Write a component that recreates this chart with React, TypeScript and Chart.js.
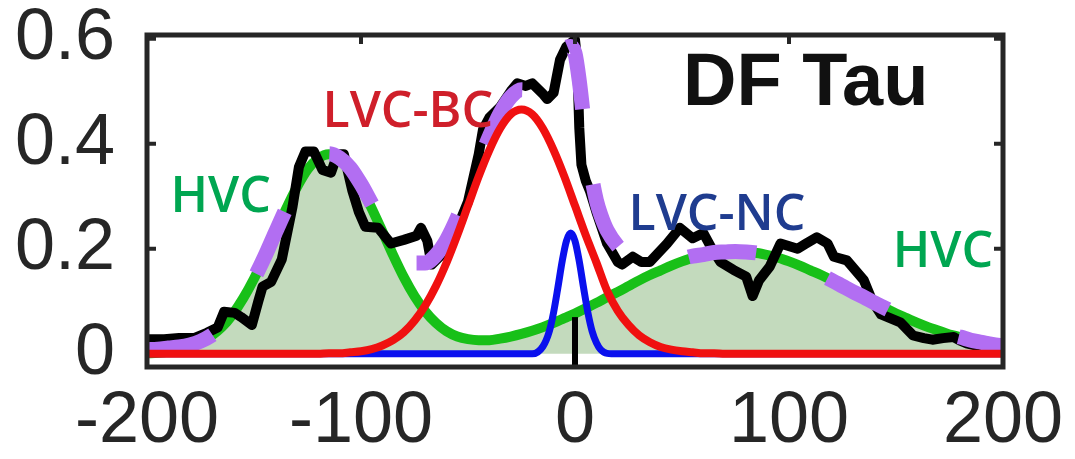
import React, { useEffect, useRef } from "react";
import { Chart, registerables } from "chart.js";

Chart.register(...registerables);

// ---------- data ----------
const X_TICKS = [-200, -100, 0, 100, 200];
const Y_TICKS = [0, 0.2, 0.4, 0.6];

const VEL = [-200,-195,-190,-185,-180,-175,-170,-165,-160,-155,-150,-145,-140,-135,-130,-125,-120,-115,-110,-105,-100,-95,-90,-85,-80,-75,-70,-65,-60,-55,-50,-45,-40,-35,-30,-25,-20,-15,-10,-5,0,5,10,15,20,25,30,35,40,45,50,55,60,65,70,75,80,85,90,95,100,105,110,115,120,125,130,135,140,145,150,155,160,165,170,175,180,185,190,195,200];

// HVC (two broad components, green, filled)
const HVC = [0.001,0.002,0.004,0.008,0.013,0.021,0.034,0.051,0.075,0.106,0.143,0.185,0.231,0.276,0.317,0.351,0.372,0.380,0.372,0.351,0.318,0.277,0.233,0.188,0.146,0.110,0.081,0.059,0.043,0.033,0.028,0.026,0.026,0.029,0.033,0.038,0.044,0.051,0.059,0.068,0.077,0.087,0.097,0.108,0.118,0.129,0.140,0.150,0.159,0.168,0.176,0.183,0.188,0.192,0.194,0.195,0.194,0.192,0.188,0.183,0.176,0.168,0.159,0.150,0.140,0.129,0.118,0.108,0.097,0.087,0.077,0.068,0.059,0.051,0.044,0.037,0.032,0.026,0.022,0.018,0.015];

// LVC-BC (red)
const LVC_BC = [0,0,0,0,0,0,0,0,0,0,0,0,0,0,0,0,0,0.001,0.001,0.003,0.005,0.009,0.016,0.026,0.041,0.063,0.092,0.129,0.174,0.226,0.282,0.338,0.388,0.429,0.456,0.465,0.456,0.429,0.388,0.338,0.282,0.226,0.174,0.12,0.082,0.055,0.035,0.022,0.013,0.008,0.005,0.003,0.001,0.001,0,0,0,0,0,0,0,0,0,0,0,0,0,0,0,0,0,0,0,0,0,0,0,0,0,0,0];

// LVC-NC (blue, narrow)
const NC_VEL = [-200,-40,-30,-20,-15,-12,-10,-8,-6,-4,-2,0,2,4,6,8,10,12,15,20,30,200];
const LVC_NC = [0,0,0,0,0.014,0.043,0.079,0.126,0.176,0.215,0.23,0.215,0.176,0.126,0.079,0.043,0.021,0.008,0.001,0,0,0];

// total model (purple dashed)
const TOT_VEL = [-200,-195,-190,-185,-180,-175,-170,-165,-160,-155,-150,-145,-140,-135,-130,-125,-120,-115,-110,-105,-100,-95,-90,-85,-80,-75,-70,-65,-60,-55,-50,-45,-40,-35,-30,-25,-20,-15,-12,-10,-8,-6,-4,-2,0,2,4,6,8,10,12,15,20,25,30,35,40,45,50,55,60,65,70,75,80,85,90,95,100,105,110,115,120,125,130,135,140,145,150,155,160,165,170,175,180,185,190,195,200];
const TOTAL = [0.008,0.009,0.011,0.013,0.017,0.024,0.035,0.051,0.075,0.106,0.143,0.185,0.231,0.276,0.317,0.351,0.372,0.381,0.373,0.354,0.323,0.286,0.249,0.214,0.187,0.173,0.173,0.188,0.217,0.259,0.310,0.364,0.414,0.458,0.489,0.503,0.500,0.494,0.505,0.526,0.552,0.572,0.583,0.585,0.572,0.52,0.45,0.385,0.332,0.292,0.265,0.235,0.205,0.186,0.177,0.174,0.175,0.177,0.181,0.186,0.189,0.193,0.194,0.195,0.194,0.192,0.188,0.183,0.176,0.168,0.159,0.150,0.140,0.129,0.118,0.108,0.097,0.087,0.077,0.068,0.059,0.051,0.044,0.037,0.032,0.026,0.022,0.018,0.015];

// observed profile (black)
const OBS_VEL = [-200,-192,-185,-178,-172,-167,-164,-159,-156,-151,-148,-146,-142,-137,-134,-132,-129,-126,-122,-118,-114,-111,-108,-104,-101,-98,-92,-86,-80,-74,-72,-69,-67,-62,-56,-50,-45,-43,-40,-35,-30,-27,-23,-20,-15,-13,-10,-7,-4,0,1,2,3,5,7,10,15,20,22,27,31,35,43,49,55,60,64,68,74,80,83,86,91,96,104,108,113,118,121,127,135,139,143,152,158,163,167,172,177,180,183,188,195,200];
const OBS = [0.028,0.028,0.03,0.03,0.04,0.05,0.08,0.078,0.07,0.055,0.1,0.128,0.137,0.18,0.24,0.28,0.356,0.385,0.385,0.35,0.345,0.38,0.38,0.31,0.27,0.242,0.24,0.21,0.217,0.225,0.24,0.215,0.17,0.19,0.23,0.29,0.38,0.427,0.45,0.47,0.5,0.515,0.51,0.515,0.495,0.485,0.497,0.56,0.585,0.598,0.56,0.43,0.36,0.33,0.31,0.27,0.21,0.175,0.17,0.185,0.175,0.175,0.21,0.24,0.22,0.23,0.2,0.175,0.16,0.147,0.11,0.14,0.166,0.21,0.2,0.21,0.222,0.21,0.185,0.178,0.14,0.1,0.075,0.06,0.035,0.03,0.027,0.03,0.032,0.025,0.02,0.015,0.01,0.01];

// short vertical black mark at v = 0 near the baseline
const MARK_VEL = [0, 0];
const MARK_VAL = [-0.03, 0.07];

// annotation labels
const LABELS = ["HVC", "LVC-BC", "LVC-NC", "HVC", "DF Tau"];
const LABEL_VEL = [-189, -118, 25, 148.5, 50.5];
const LABEL_VAL = [0.27, 0.432, 0.236, 0.166, 0.474];

const pts = (xs: number[], ys: number[]) => xs.map((x, i) => ({ x, y: ys[i] }));

export default function App() {
  const ref = useRef<HTMLCanvasElement | null>(null);

  useEffect(() => {
    if (!ref.current) return;
    const frame = {
      id: "frame",
      afterDatasetsDraw(chart: any) {
        const { ctx, chartArea: a, scales } = chart;
        ctx.save();
        ctx.strokeStyle = "#262626";
        ctx.lineWidth = 5;
        ctx.strokeRect(a.left, a.top, a.right - a.left, a.bottom - a.top);
        ctx.lineWidth = 4;
        ctx.beginPath();
        for (const v of Y_TICKS) {
          const y = scales.y.getPixelForValue(v);
          if (y > a.bottom - 20) continue;
          ctx.moveTo(a.left, y); ctx.lineTo(a.left + 9, y);
          ctx.moveTo(a.right, y); ctx.lineTo(a.right - 9, y);
        }
        for (const v of X_TICKS) {
          const x = scales.x.getPixelForValue(v);
          if (x < a.left + 6 || x > a.right - 6) continue;
          ctx.moveTo(x, a.top); ctx.lineTo(x, a.top + 9);
        }
        ctx.stroke();

        const styles = [
          { font: '600 50px "Open Sans"', color: "#00a651" },
          { font: '600 50px "Open Sans"', color: "#cf1f2a" },
          { font: '600 50px "Open Sans"', color: "#1f3c8f" },
          { font: '600 50px "Open Sans"', color: "#00a651" },
          { font: 'bold 74px "Liberation Sans", Arial, sans-serif', color: "#111111" },
        ];
        ctx.textAlign = "left";
        ctx.textBaseline = "alphabetic";
        LABELS.forEach((t, i) => {
          ctx.font = styles[i].font;
          ctx.fillStyle = styles[i].color;
          ctx.fillText(t, scales.x.getPixelForValue(LABEL_VEL[i]), scales.y.getPixelForValue(LABEL_VAL[i]));
        });
        ctx.restore();
      },
    };

    const tickFont = { family: '"Liberation Sans", Arial, sans-serif', size: 72 };

    const chart = new Chart(ref.current, {
      type: "line",
      data: {
        datasets: [
          { label: "mark", data: pts(MARK_VEL, MARK_VAL), borderColor: "#000", borderWidth: 6, pointRadius: 0, order: 0, borderCapStyle: "butt" },
          { label: "LVC-BC", data: pts(VEL, LVC_BC), borderColor: "#f01010", borderWidth: 8, pointRadius: 0, cubicInterpolationMode: "monotone", order: 1 },
          { label: "LVC-NC", data: pts(NC_VEL, LVC_NC), borderColor: "#0a10ee", borderWidth: 7, pointRadius: 0, cubicInterpolationMode: "monotone", order: 2 },
          { label: "total", data: pts(TOT_VEL, TOTAL), borderColor: "#b26ef2", borderWidth: 15, pointRadius: 0, cubicInterpolationMode: "monotone", borderDash: [68, 76], borderCapStyle: "butt", order: 3 },
          { label: "obs", data: pts(OBS_VEL, OBS), borderColor: "#000", borderWidth: 10, pointRadius: 0, tension: 0, borderJoinStyle: "round", order: 4 },
          { label: "HVC", data: pts(VEL, HVC), borderColor: "#18c018", backgroundColor: "#c3dabd", fill: "origin", borderWidth: 10, pointRadius: 0, cubicInterpolationMode: "monotone", order: 5 },
        ] as any,
      },
      options: {
        responsive: false,
        animation: false,
        devicePixelRatio: 1,
        layout: { padding: { top: 35, right: 72, left: 0, bottom: 0 } },
        plugins: { legend: { display: false }, tooltip: { enabled: false } },
        scales: {
          x: {
            type: "linear",
            min: -200,
            max: 200,
            grid: { display: false, drawTicks: false },
            border: { display: false },
            afterBuildTicks: (s: any) => { s.ticks = X_TICKS.map((v) => ({ value: v })); },
            afterFit: (s: any) => { s.height = 92; s.paddingLeft = 0; s.paddingRight = 0; s.paddingTop = 0; s.paddingBottom = 0; },
            ticks: { font: tickFont, color: "#262626", padding: 12, maxRotation: 0, autoSkip: false, callback: (v: any) => String(v) },
          },
          y: {
            type: "linear",
            min: -0.025,
            max: 0.607,
            grid: { display: false, drawTicks: false },
            border: { display: false },
            afterBuildTicks: (s: any) => { s.ticks = Y_TICKS.map((v) => ({ value: v })); },
            afterFit: (s: any) => { s.width = 147; s.paddingLeft = 0; s.paddingRight = 0; s.paddingTop = 0; s.paddingBottom = 0; },
            ticks: { font: tickFont, color: "#262626", padding: 32, autoSkip: false, callback: (v: any) => (v === 0 ? "0" : Number(v).toFixed(1)) },
          },
        },
      } as any,
      plugins: [frame],
    });
    return () => chart.destroy();
  }, []);

  return (
    <div style={{ position: "fixed", left: 0, top: 0, width: 1075, height: 459, background: "#fff" }}>
      <canvas ref={ref} width={1075} height={459} style={{ display: "block" }} />
    </div>
  );
}
